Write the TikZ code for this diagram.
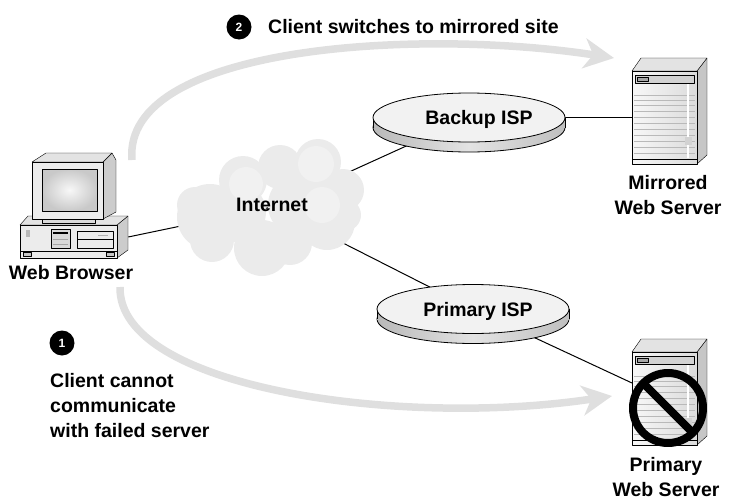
\documentclass[tikz,border=0pt]{standalone}
\usepackage{fontspec}
\setmainfont{Liberation Sans}
\usetikzlibrary{arrows.meta,shapes.geometric,calc}
\pgfdeclarelayer{background}
\pgfsetlayers{background,main}

\tikzset{
  txt/.style={font=\bfseries\fontsize{19.5}{25}\selectfont, inner sep=0, align=center},
  link/.style={line width=1pt, black},
  flow/.style={line width=7.5pt, gray!25,
    -{Stealth[length=30pt, width=30pt, inset=9pt]}},
  badge/.style={circle, fill=black, text=white, minimum size=25pt, inner sep=0,
    font=\bfseries\fontsize{12}{12}\selectfont},
  puff/.style={fill=gray!16, draw=none},
  hilite/.style={fill=gray!11, draw=none},
  isp/.style={ellipse, draw, line width=.8pt, fill=gray!10, minimum width=192pt,
    minimum height=49pt, inner sep=0},
  box/.style={inner sep=0, draw=none},
  % flat side band under an ISP disk, origin at the centre of its top face
  disk/.pic={
    \draw[line width=.8pt, left color=gray!55, right color=gray!50, middle color=gray!22]
      (0,10) ellipse[x radius=96, y radius=24.5];
    \fill[left color=gray!55, right color=gray!50, middle color=gray!22]
      (-96,0) rectangle (96,10);
    \draw[line width=.8pt] (-96,0) -- (-96,10) (96,0) -- (96,10);
  },
  % tower server, origin at the top left corner of its front panel
  server/.pic={
    \draw[fill=gray!45, line join=round] (65,0) -- (75,-13) -- (75,84) -- (65,93) -- cycle;
    \draw[fill=gray!22, line join=round] (0,0) -- (9,-13) -- (75,-13) -- (65,0) -- cycle;
    \draw[left color=gray!6, right color=gray!28] (0,0) rectangle (65,93);
    \draw[fill=gray!35] (3,4) rectangle (62,12);
    \draw[fill=gray!70] (5,6) rectangle (16,10);
    \foreach \yy in {24,29,34,40,46,52,58,64,70,76,82}
      \draw[gray!55, line width=.6pt] (2,\yy) -- (63,\yy);
    \draw[white, line width=1.6pt] (56,13) -- (56,87);
    \fill[gray!35] (53,66) rectangle (60,74);
    \draw (0,88) -- (65,88);
  }
}

\begin{document}
\begin{tikzpicture}[x=1pt, y=-1pt, line join=round]
\useasboundingbox (0,0) rectangle (732,501);

% ---------- web browser (desktop PC) ----------
\draw[fill=gray!40] (117,225) -- (128,216) -- (128,250) -- (117,258) -- cycle;
\draw[fill=gray!22] (20,225) -- (28,216) -- (128,216) -- (117,225) -- cycle;
\draw[fill=gray!15] (20,225) rectangle (117,258);
\draw (20,251) -- (117,251);
\draw[fill=gray!45] (23,252.5) rectangle (31,256.5);
\draw[fill=gray!45] (106,252.5) rectangle (114,256.5);
\fill[gray!55] (26,230) rectangle (30,237);
\draw[fill=gray!30] (51,229) rectangle (70,248);
\draw[line width=1.6pt] (53,233) -- (68,233);
\draw[gray!70] (53,239) -- (68,239) (53,244) -- (68,244);
\draw (77,231) rectangle (113,248);
\draw (77,239) -- (113,239);
\draw[gray!60] (98,235.5) -- (108,235.5);
% monitor
\draw[fill=gray!40] (103,162) -- (112,153) -- (116,160) -- (116,212) -- (103,219) -- cycle;
\draw[fill=gray!22] (32,162) -- (46,153) -- (112,153) -- (103,162) -- cycle;
\draw[fill=gray!15] (32,162) rectangle (103,219);
\draw[inner color=gray!6, outer color=gray!42] (42,169) rectangle (97,211);
\draw[fill=gray!28] (42,219) rectangle (95,223);
\node[box, minimum width=108pt, minimum height=42pt] (browser) at (74,237) {};
\node[txt] (browserlbl) at (71,273) {Web Browser};

% ---------- internet cloud ----------
\coordinate (hub) at (272,207);
\foreach \cx/\cy/\r in {210/217/33, 243/180/24, 280/167/22, 318/162/23,
    343/190/21, 327/222/28, 262/248/28, 290/243/22, 212/240/22, 236/212/30,
    300/205/32, 345/215/16, 195/205/18}
  \fill[puff] (\cx,\cy) circle[radius=\r];
\foreach \cx/\cy/\r in {316/164/18, 322/205/18, 246/184/17}
  \fill[hilite] (\cx,\cy) circle[radius=\r];
\node[txt] (internet) at (272,205) {Internet};

% ---------- ISPs ----------
\pic at (469,117.5) {disk};
\node[isp] (backup) at (469,117.5) {};
\node[txt] at (479,119) {Backup ISP};
\pic at (473,309) {disk};
\node[isp] (primary) at (473,309) {};
\node[txt] at (478,311) {Primary ISP};

% ---------- servers ----------
\pic at (632,71) {server};
\node[box, minimum width=65pt, minimum height=93pt] (mserver) at (664.5,117.5) {};
\node[txt, anchor=north] at (668,175) {Mirrored\\Web Server};

\pic at (632,352) {server};
\node[box, minimum width=65pt, minimum height=93pt] (pserver) at (664.5,398.5) {};
\coordinate (pport) at (632,383);
\node[txt, anchor=north] at (666,457) {Primary\\Web Server};
% out-of-service sign on the failed server
\draw[line width=8pt] (668,408) circle[radius=35];
\draw[line width=8pt] ($(668,408)+(225:35)$) -- ($(668,408)+(45:35)$);

% ---------- network links ----------
\begin{pgfonlayer}{background}
  \draw[link] (browser.east) -- (hub);
  \draw[link] (hub) -- (backup.center);
  \draw[link] (hub) -- (primary.center);
  \draw[link] (backup.center) -- (mserver.west);
  \draw[link] (primary.center) -- (pport);
\end{pgfonlayer}

% ---------- client traffic ----------
\draw[flow] (132,160) .. controls (122,45) and (420,28) .. (614,58);
\draw[flow] (120,287) .. controls (118,388) and (400,428) .. (612,396);

\node[badge] (b2) at (239,27) {2};
\node[txt, anchor=west] at (268,27) {Client switches to mirrored site};
\node[badge] (b1) at (62,343) {1};
\node[txt, align=left, anchor=north west] at (50,373)
  {Client cannot\\communicate\\with failed server};
\end{tikzpicture}
\end{document}
